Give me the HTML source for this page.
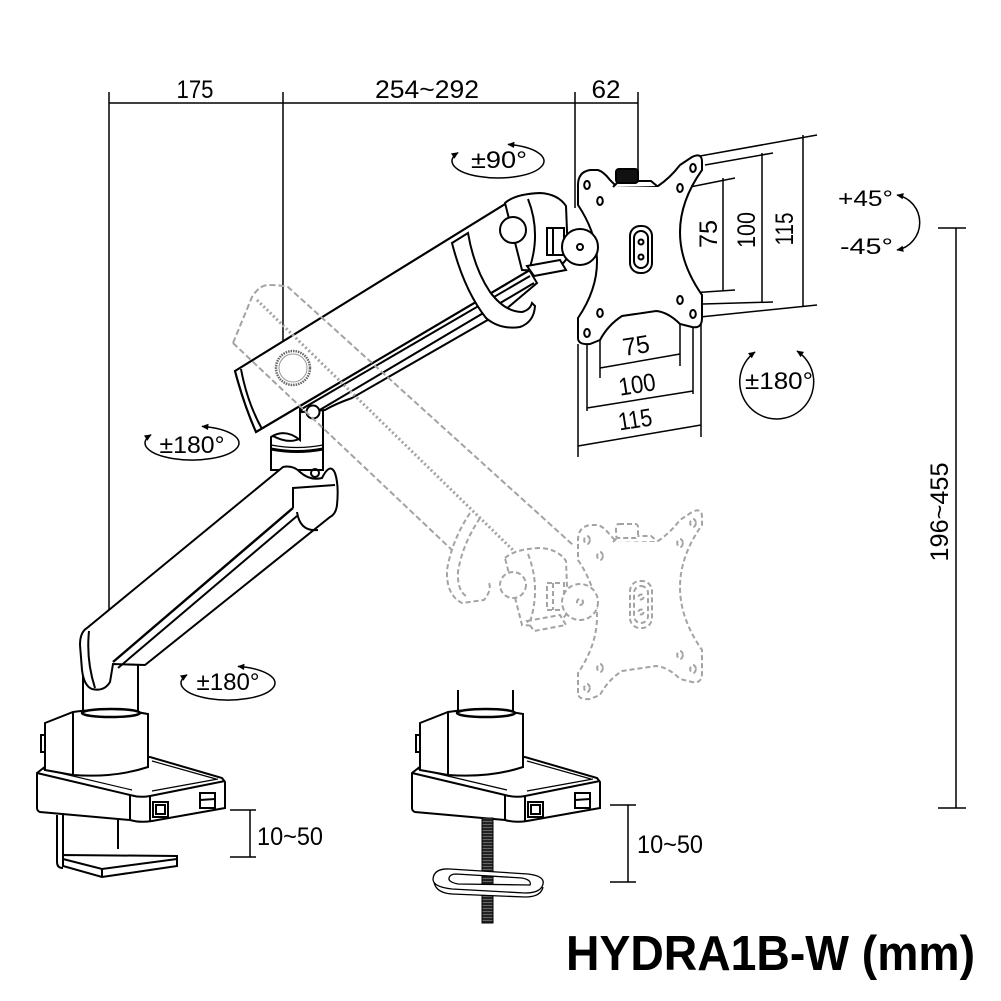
<!DOCTYPE html>
<html><head><meta charset="utf-8"><style>
html,body{margin:0;padding:0;background:#fff;}
svg{display:block;}
text{font-family:"Liberation Sans",sans-serif;fill:#000;}
</style></head><body>
<svg width="1001" height="1001" viewBox="0 0 1001 1001" xmlns="http://www.w3.org/2000/svg">
<defs>
<marker id="ah" viewBox="0 0 10 10" refX="9" refY="5" markerWidth="8" markerHeight="7" orient="auto-start-reverse" markerUnits="userSpaceOnUse"><path d="M0,0.5 L10,5 L0,9.5 Z" fill="#000"/></marker>
<pattern id="thr" width="11" height="3" patternUnits="userSpaceOnUse"><rect width="11" height="3" fill="#222"/><rect y="2" width="11" height="0.8" fill="#777"/></pattern>
<g id="head">
 <path fill="#fff" d="M578,338 L578,318 Q616,262 578,205 L578,185 Q578,172 590,170 L598,170 Q604,172 610,180 L616,186 L658,186 Q670,178 680,165 L692,157 Q702,152 702,162 L702,170 Q658,232 702,295 L702,318 Q702,329 692,327 L680,324 Q668,312 656,311 L622,316 Q608,325 600,340 L590,344 Q578,345 578,338 Z"/>
 <g fill="#fff">
  <ellipse cx="587" cy="185" rx="2.8" ry="4"/><ellipse cx="600" cy="201" rx="2.8" ry="4"/>
  <ellipse cx="693" cy="168" rx="2.8" ry="4"/><ellipse cx="680" cy="188" rx="2.8" ry="4"/>
  <ellipse cx="680" cy="300" rx="2.8" ry="4"/><ellipse cx="693" cy="314" rx="2.8" ry="4"/>
  <ellipse cx="600" cy="313" rx="2.8" ry="4"/><ellipse cx="587" cy="333" rx="2.8" ry="4"/>
  <rect x="630" y="226" width="22" height="47" rx="10"/>
  <rect x="634" y="231" width="14" height="37" rx="7"/>
  <circle cx="641" cy="242" r="2.5"/><circle cx="641" cy="257" r="2.5"/>
  <path d="M613,187 L619,181 L651,181 L657,186"/>
 </g>
 <rect x="616" y="169" width="22" height="14" rx="3" fill="currentColor"/>
 <path fill="#fff" d="M505,203 Q515,194 540,193 Q558,194 566,206 L568,256 Q562,270 540,271 L522,270 Z"/>
 <path fill="none" d="M528,199 Q541,232 530,267"/>
 <circle cx="513" cy="230" r="13" fill="#fff"/>
 <rect x="547" y="228" width="17" height="27" fill="#fff"/>
 <path fill="none" d="M553,228 V255"/>
 <path fill="#fff" d="M527,266 L560,260 L566,270 L534,276 Z"/>
 <circle cx="580" cy="247" r="18" fill="#fff"/>
 <circle cx="580" cy="247" r="3" fill="#fff"/>
</g>
<g id="base">
 <path fill="#fff" d="M37,773 L46,766 L150,757 L222,778 L225,782 L225,808 L152,821 Q140,823 130,820 L40,812 Q37,811 37,808 Z"/>
 <path fill="none" d="M37,773 L130,795 Q140,798 150,796 L225,781"/>
 <path fill="none" d="M130,795 L130,820 M150,796 L150,821"/>
 <path fill="none" stroke-width="1.2" d="M43,769 L132,790 M152,791 L218,779 M152,761 L216,779"/>
 <path fill="#fff" d="M45,723 L73,712 Q110,707 148,714 L148,767 Q115,778 73,775 L45,770 Z"/>
 <path fill="none" d="M73,712 L73,775"/>
 <rect x="41" y="735" width="4" height="17" fill="#fff"/>
 <ellipse cx="111" cy="713" rx="29" ry="4" fill="#fff" stroke-width="2.5"/>
 <rect x="153" y="802" width="15" height="15" fill="#fff"/>
 <rect x="156" y="805" width="9" height="9" fill="#fff"/>
 <rect x="200" y="793" width="15" height="15" fill="#fff"/>
 <path fill="none" d="M200,800 L215,799"/>
</g>
</defs>
<rect width="1001" height="1001" fill="#fff"/>

<!-- top dimensions -->
<g stroke="#000" stroke-width="1.5" fill="none">
 <path d="M109,92 V610 M283,92 V341 M575,92 V208 M638,92 V172 M109,103 H638"/>
 <path d="M700,156 L817,135 M705,165 L773,153 M690,187 L735,178 M690,293 L735,290 M703,304 L773,302 M700,317 L817,305"/>
 <path d="M723,178 V290 M762,153 V303 M803,135 V306"/>
 <path d="M600,318 V378 M680,305 V366 M587,338 V411 M693,319 V394 M578,344 V457 M701,322 V437"/>
 <path d="M600,368 L680,354 M587,408 L693,391 M578,446 L701,425"/>
 <path d="M956,228 V808 M938,228 H966 M938,808 H966"/>
 <path d="M250,810 V857 M230,810 H256 M230,857 H256"/>
 <path d="M628,805 V882 M610,805 H636 M610,882 H636"/>
</g>

<g font-size="25">
 <text x="195" y="98" text-anchor="middle" textLength="37" lengthAdjust="spacingAndGlyphs">175</text>
 <text x="427" y="98" text-anchor="middle" textLength="104" lengthAdjust="spacingAndGlyphs">254~292</text>
 <text x="606" y="98" text-anchor="middle" textLength="29" lengthAdjust="spacingAndGlyphs">62</text>
 <text transform="translate(717,234) rotate(-90)" text-anchor="middle" textLength="28" lengthAdjust="spacingAndGlyphs">75</text>
 <text transform="translate(755,230) rotate(-90)" text-anchor="middle" textLength="36" lengthAdjust="spacingAndGlyphs">100</text>
 <text transform="translate(793,229) rotate(-90)" text-anchor="middle" textLength="33" lengthAdjust="spacingAndGlyphs">115</text>
 <text x="636" y="354" text-anchor="middle" transform="rotate(-9 636 345)" textLength="27" lengthAdjust="spacingAndGlyphs">75</text>
 <text x="637" y="393" text-anchor="middle" transform="rotate(-9 637 384)" textLength="37" lengthAdjust="spacingAndGlyphs">100</text>
 <text x="635" y="428" text-anchor="middle" transform="rotate(-9 635 419)" textLength="34" lengthAdjust="spacingAndGlyphs">115</text>
 <text transform="translate(948,512) rotate(-90)" text-anchor="middle" textLength="99" lengthAdjust="spacingAndGlyphs">196~455</text>
 <text x="257" y="845" textLength="66" lengthAdjust="spacingAndGlyphs">10~50</text>
 <text x="637" y="853" textLength="66" lengthAdjust="spacingAndGlyphs">10~50</text>
</g>

<!-- left base -->
<rect x="83" y="650" width="55" height="63" fill="#fff" stroke="#000" stroke-width="2"/>
<use href="#base" stroke="#000" stroke-width="2"/>
<g stroke="#000" stroke-width="2" fill="none">
 <path d="M57,815 L57,862 Q57,868 63,868 M63,815 L63,858 M118,820 L118,849"/>
 <path fill="#fff" d="M63,855 L177,856 L177,866 L102,877 L63,866 Z"/>
 <path d="M63,859 L102,869 L177,859 M102,869 L102,877"/>
</g>

<!-- right base -->
<rect x="458" y="690" width="55" height="23" fill="#fff"/>
<path d="M458,690 V712 M513,690 V712" stroke="#000" stroke-width="2"/>
<use href="#base" transform="translate(375,0)" stroke="#000" stroke-width="2"/>
<rect x="482" y="818" width="11" height="105" fill="url(#thr)" stroke="#000" stroke-width="1"/>
<g stroke="#000" stroke-width="1.3">
 <path fill="#fff" d="M434,882 Q436,893 452,894 L525,897 Q541,897 543,887"/>
 <path fill="#fff" fill-rule="evenodd" d="M450,869 L528,874 Q545,876 543,884 Q541,893 525,893 L452,889 Q433,887 433,879 Q434,868 450,869 Z M456,874 L522,878 Q532,880 530,885 L458,884 Q448,882 449,878 Q450,874 456,874 Z"/>
</g>

<!-- elbow cylinder -->
<g stroke="#000" stroke-width="2">
 <path fill="#fff" d="M271,437 Q285,428 300,440 L300,409 L323,405 L323,470 L271,470 Z"/>
 <path fill="none" stroke-width="1.2" d="M271,445 Q297,450 323,445"/>
 <path fill="none" stroke-width="3" d="M271,449 Q297,454 323,449"/>
 <path fill="none" d="M273,436 Q288,444 299,439"/>
</g>

<!-- lower arm -->
<g stroke="#000" stroke-width="2" fill="none">
 <path fill="#fff" d="M87,628 L283,467 Q293,465 300,472 Q310,481 322,478 Q330,462 335,473 Q339,485 337,505 Q336,514 330,517 L145,665 L113,664 L110,682 Q104,692 92,689 Q84,686 82,670 L80,645 Q80,632 87,628 Z"/>
 <path stroke-width="2.4" d="M293,508 L113,662"/>
 <path d="M297,516 L118,668"/>
 <path d="M293,488 L335,485 M293,487 L293,508"/>
 <circle cx="315" cy="473" r="4"/>
 <path d="M297,512 Q300,532 318,530"/>
 <path d="M89,631 Q86,660 95,688"/>
</g>

<!-- upper arm -->
<g stroke="#000" stroke-width="2" fill="none">
 <path fill="#fff" d="M300,406 L528,268 L537,283 L505,310 L352,398 Q335,404 325,410 L302,412 Z"/>
 <path d="M300,410 L530,276 M318,411 L534,283"/>
 <path fill="#fff" stroke-width="2.2" d="M235,371 L510,201 L530,270 L256,432 Q244,405 235,371 Z"/>
 <path d="M241,369 Q247,402 262,429"/>
 <circle cx="313" cy="412" r="6.5" fill="#fff"/>
 <circle cx="293" cy="368" r="17" stroke="#666" stroke-width="2.5" stroke-dasharray="1.5 1"/>
 <circle cx="293" cy="368" r="14" stroke="#999" stroke-width="1"/>
 <path fill="#fff" d="M452,243 L468,233 Q474,268 490,292 Q505,312 522,312 Q530,310 532,303 L535,306 Q534,322 520,327 Q500,330 486,318 Q464,290 452,243 Z"/>
</g>

<!-- head -->
<use href="#head" stroke="#000" stroke-width="2" color="#111"/>

<!-- ghost arm -->
<g stroke="#a3a3a3" fill="none">
 <path stroke-width="2" stroke-dasharray="6 3" d="M233,343 L252,297 Q260,284 270,285 Q280,285 288,287 L573,545"/>
 <path stroke-width="3" stroke-dasharray="2 2.5" d="M257,300 L520,557"/>
 <path stroke-width="2" stroke-dasharray="6 3" d="M233,343 L452,550"/>
 <path stroke-width="2" stroke-dasharray="5 3" d="M470,513 Q452,540 447,570 Q446,595 462,603 L484,600 Q492,590 489,583 M480,518 Q462,545 458,572 Q457,590 466,596"/>
</g>
<use href="#head" transform="translate(0,355)" stroke="#a3a3a3" stroke-width="2" stroke-dasharray="5 3" color="#fff"/>

<!-- rotation annotations -->
<g stroke="#000" stroke-width="1.5" fill="none">
 <path d="M458,152.6 A46,17 0 1 0 508,144.4" marker-start="url(#ah)" marker-end="url(#ah)"/>
 <path d="M151,434.7 A47,17 0 1 0 202,426.4" marker-start="url(#ah)" marker-end="url(#ah)"/>
 <path d="M187,674.7 A47,17 0 1 0 238,666.4" marker-start="url(#ah)" marker-end="url(#ah)"/>
 <path d="M755,352 A37,37 0 1 0 797,351" marker-start="url(#ah)" marker-end="url(#ah)"/>
 <path d="M897,195 A28,28 0 0 1 897,250" marker-start="url(#ah)" marker-end="url(#ah)"/>
</g>
<g font-size="24">
 <text x="499" y="168" text-anchor="middle" textLength="56" lengthAdjust="spacingAndGlyphs">±90°</text>
 <text x="192" y="453" text-anchor="middle" textLength="65" lengthAdjust="spacingAndGlyphs">±180°</text>
 <text x="228" y="690" text-anchor="middle" textLength="63" lengthAdjust="spacingAndGlyphs">±180°</text>
 <text x="779" y="389" text-anchor="middle" textLength="68" lengthAdjust="spacingAndGlyphs">±180°</text>
 <text x="838" y="206" font-size="22" textLength="55" lengthAdjust="spacingAndGlyphs">+45°</text>
 <text x="840" y="254" font-size="22" textLength="53" lengthAdjust="spacingAndGlyphs">-45°</text>
</g>

<text x="566" y="970" font-size="49" font-weight="bold" textLength="409" lengthAdjust="spacingAndGlyphs">HYDRA1B-W (mm)</text>
</svg>
</body></html>
